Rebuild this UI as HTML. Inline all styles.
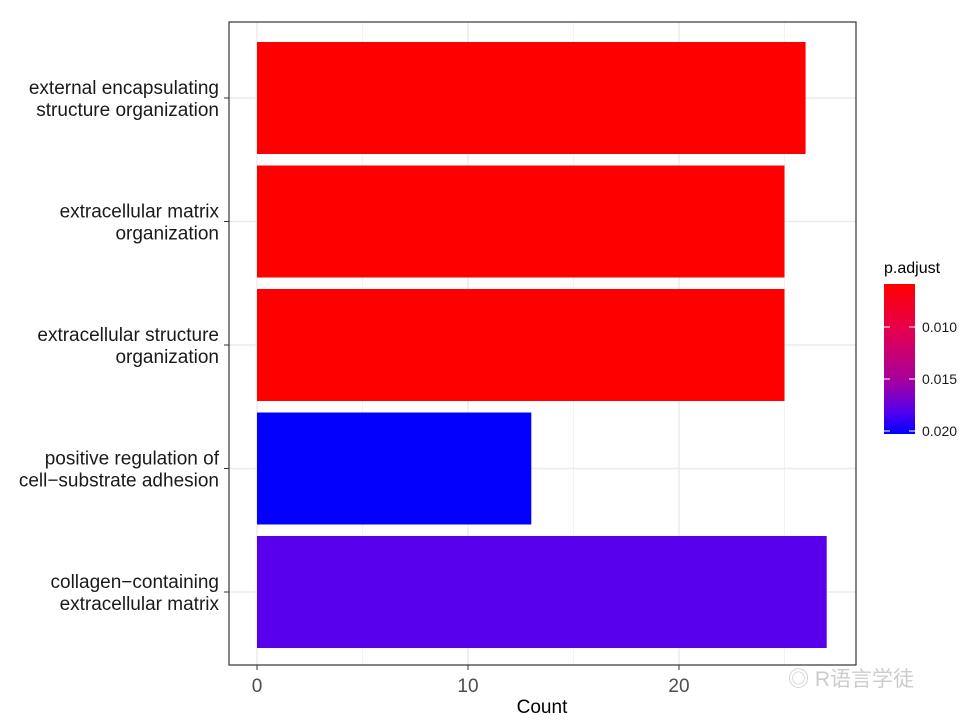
<!DOCTYPE html>
<html><head><meta charset="utf-8"><style>
body{margin:0;background:#fff;}
svg text{font-family:"Liberation Sans","Noto Sans CJK SC",sans-serif;}
</style></head><body>
<svg id="c" width="971" height="720" xmlns="http://www.w3.org/2000/svg">
<defs><linearGradient id="cb" x1="0" y1="0" x2="0" y2="1">
<stop offset="0" stop-color="#FF0000"/><stop offset="0.29" stop-color="#E8004A"/><stop offset="0.64" stop-color="#A6009C"/><stop offset="0.85" stop-color="#5500EE"/><stop offset="1" stop-color="#0000FF"/></linearGradient></defs>
<g id="grid"></g><g id="bars"></g><g id="axes"></g>
<g>
<text x="884" y="273" font-size="16" fill="#000">p.adjust</text>
<rect x="884" y="284" width="31" height="150" fill="url(#cb)"/>
<g id="leg"></g>
</g>
<text x="788" y="686" font-size="21" fill="#ccc">◎ R语言学徒</text>
</svg>
<script>
const categories=["external encapsulating|structure organization","extracellular matrix|organization","extracellular structure|organization","positive regulation of|cell−substrate adhesion","collagen−containing|extracellular matrix"];
const counts=[26,25,25,13,27];
const padj=[0.0059,0.0059,0.0059,0.0202,0.018];
const xTicks=[0,10,20];
const legTicks=[0.010,0.015,0.020];
const NS="http://www.w3.org/2000/svg";
const L=229,R=856,T=22,B=665;
const x=v=>257+v*21.1;
const yc=i=>98+i*123.5;
const ly=p=>327+(p-0.010)/0.005*52;
const stops=[[0,[255,0,0]],[0.29,[232,0,74]],[0.64,[166,0,156]],[0.85,[85,0,238]],[1,[0,0,255]]];
function col(p){let t=Math.max(0,Math.min(1,(ly(p)-284)/150));for(let k=1;k<stops.length;k++){if(t<=stops[k][0]){const a=stops[k-1],b=stops[k],f=(t-a[0])/(b[0]-a[0]);return 'rgb('+a[1].map((c,j)=>Math.round(c+(b[1][j]-c)*f)).join(',')+')';}}return 'rgb(0,0,255)';}
function mk(tag,at,par,txt){const e=document.createElementNS(NS,tag);for(const k in at)e.setAttribute(k,at[k]);if(txt!==undefined)e.textContent=txt;par.appendChild(e);return e;}
const g=document.getElementById('grid'),bg=document.getElementById('bars'),ax=document.getElementById('axes'),lg=document.getElementById('leg');
mk('rect',{x:L,y:T,width:R-L,height:B-T,fill:'#fff'},g);
[5,15,25].forEach(v=>{const e=mk('line',{x1:x(v),x2:x(v),y1:T,y2:B,stroke:'#f2f2f2','stroke-width':1},g);});
xTicks.forEach(v=>{const e=mk('line',{x1:x(v),x2:x(v),y1:T,y2:B,stroke:'#ebebeb','stroke-width':1.5},g);});
categories.forEach((c,i)=>{const e=mk('line',{x1:L,x2:R,y1:yc(i),y2:yc(i),stroke:'#ebebeb','stroke-width':1.5},g);});
categories.forEach((c,i)=>{
const r=mk('rect',{x:x(0),y:yc(i)-56,width:x(counts[i])-x(0),height:112,fill:col(padj[i])},bg);


const ls=c.split('|');
const t=mk('text',{x:219,y:yc(i)-4,'font-size':19,'text-anchor':'end',fill:'#1a1a1a'},ax);


mk('tspan',{x:219,dy:0},t,ls[0]);mk('tspan',{x:219,dy:22},t,ls[1]);
mk('line',{x1:224,x2:L,y1:yc(i),y2:yc(i),stroke:'#333'},ax);
});
mk('rect',{x:L,y:T,width:R-L,height:B-T,fill:'none',stroke:'#333','stroke-width':1.2},ax);
xTicks.forEach(v=>{mk('line',{x1:x(v),x2:x(v),y1:B,y2:B+5,stroke:'#333'},ax);
const t=mk('text',{x:x(v),y:B+27,'font-size':19,'text-anchor':'middle',fill:'#4d4d4d'},ax,String(v));

});
const xt=mk('text',{x:542,y:713,'font-size':19,'text-anchor':'middle',fill:'#000'},ax,'Count');


legTicks.forEach(p=>{const yy=ly(p);
mk('line',{x1:884,x2:890,y1:yy,y2:yy,stroke:'#fff'},lg);mk('line',{x1:909,x2:915,y1:yy,y2:yy,stroke:'#fff'},lg);
const t=mk('text',{x:922,y:yy+5,'font-size':14,fill:'#1a1a1a'},lg,p.toFixed(3));

});
</script>
</body></html>
